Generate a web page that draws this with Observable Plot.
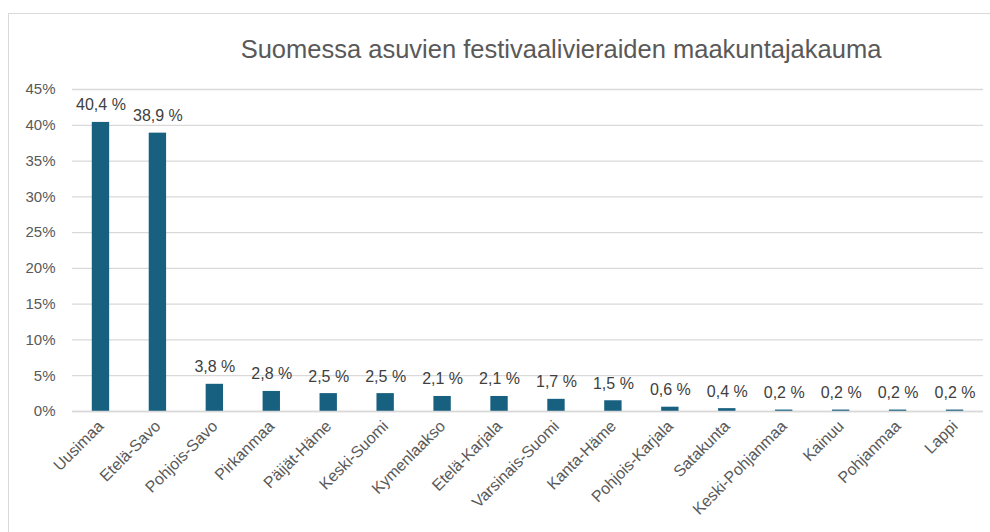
<!DOCTYPE html>
<html>
<head>
<meta charset="utf-8">
<script src="https://cdn.jsdelivr.net/npm/d3@7"></script>
<script src="https://cdn.jsdelivr.net/npm/@observablehq/plot@0.6"></script>
<style>
  html, body { margin: 0; padding: 0; background: #fff; }
  #wrap { position: relative; width: 990px; height: 532px; overflow: hidden; font-family: "Liberation Sans", Arial, sans-serif; }
  #frame { position: absolute; left: 8px; top: 13px; width: 1000px; height: 600px; border: 1.5px solid #d9d9d9; box-sizing: border-box; }
  #title { position: absolute; left: 0; width: 1122px; top: 35px; text-align: center; font-size: 25.5px; color: #595959; white-space: nowrap; }
  #chart { position: absolute; left: 0; top: 70px; }
</style>
</head>
<body>
<div id="wrap">
  <div id="frame"></div>
  <div id="title">Suomessa asuvien festivaalivieraiden maakuntajakauma</div>
  <div id="chart"></div>
</div>
<script>
const regions = ["Uusimaa", "Etelä-Savo", "Pohjois-Savo", "Pirkanmaa", "Päijät-Häme", "Keski-Suomi", "Kymenlaakso", "Etelä-Karjala", "Varsinais-Suomi", "Kanta-Häme", "Pohjois-Karjala", "Satakunta", "Keski-Pohjanmaa", "Kainuu", "Pohjanmaa", "Lappi"];
const shares = [40.4, 38.9, 3.8, 2.8, 2.5, 2.5, 2.1, 2.1, 1.7, 1.5, 0.6, 0.4, 0.2, 0.2, 0.2, 0.2];
const yTicks = [0, 5, 10, 15, 20, 25, 30, 35, 40, 45];

const data = regions.map((r, i) => ({region: r, value: shares[i]}));
const fmt = v => v.toFixed(1).replace(".", ",") + "\u00A0%";

const plot = Plot.plot({
  width: 990,
  height: 462,
  marginLeft: 72,
  marginRight: 7,
  marginTop: 19,
  marginBottom: 121,
  style: {fontFamily: "Liberation Sans, Arial, sans-serif", color: "#595959", background: "transparent"},
  x: {domain: regions, paddingInner: 0.695, paddingOuter: 0.3475, round: false, label: null},
  y: {domain: [0, 45], label: null},
  marks: [
    Plot.gridY(yTicks, {stroke: "#d9d9d9", strokeOpacity: 1, strokeWidth: 1.3}),
    Plot.axisY(yTicks, {tickSize: 0, tickPadding: 17, tickFormat: d => d + "%", fontSize: 15, fill: "#595959"}),
    Plot.axisX({tickSize: 0, tickPadding: 12, tickRotate: -45, fontSize: 16, fill: "#595959", label: null}),
    Plot.barY(data, {x: "region", y: "value", fill: "#17607f"}),
    Plot.ruleY([0], {stroke: "#d9d9d9", strokeWidth: 1.5}),
    Plot.text(data, {x: "region", y: "value", text: d => fmt(d.value), dy: -12, lineAnchor: "bottom", fontSize: 16, fill: "#404040"})
  ]
});
document.getElementById("chart").appendChild(plot);
</script>
</body>
</html>
